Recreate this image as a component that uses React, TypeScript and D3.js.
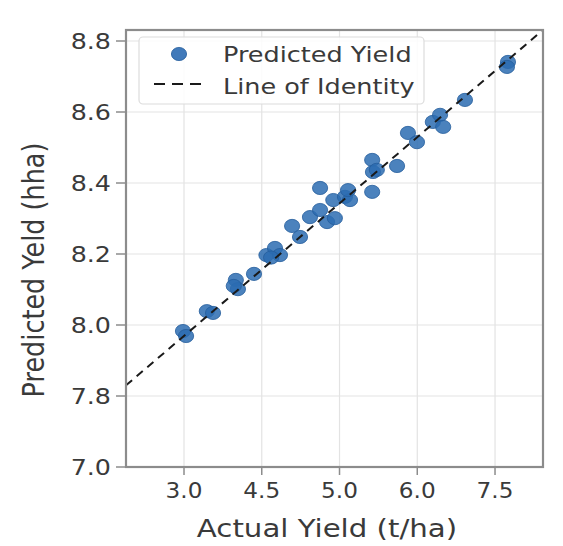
import React from "react";
import * as d3 from "d3";

// ---- data ----
const actualYield = [
  2.98, 3.04, 3.44, 3.56, 4.0, 4.04, 3.96, 4.35, 4.53, 4.585, 4.617, 4.56, 4.695, 4.746,
  4.81, 4.875, 4.92, 4.97, 4.875, 4.96, 5.07, 5.135, 5.11, 5.42, 5.42, 5.43, 5.48,
  5.74, 5.88, 5.996, 6.3, 6.44, 6.5, 6.92, 7.75, 7.73,
];
const predictedYield = [
  7.983, 7.969, 8.039, 8.034, 8.127, 8.101, 8.11, 8.144, 8.197, 8.217, 8.197, 8.19, 8.279, 8.248,
  8.304, 8.324, 8.29, 8.301, 8.386, 8.352, 8.361, 8.352, 8.38, 8.375, 8.465, 8.431, 8.437,
  8.448, 8.541, 8.515, 8.572, 8.592, 8.558, 8.634, 8.741, 8.727,
];
const xTickLabels = [3.0, 4.5, 5.0, 6.0, 7.5];
const yTickLabels = [7.0, 7.8, 8.0, 8.2, 8.4, 8.6, 8.8];
const xDomainEnds = [1.881, 8.426];
const yDomainTop = 8.831;
const identityLine = [
  { x: 1.881, y: 7.83 },
  { x: 8.426, y: 8.831 },
];
const xTitle = "Actual Yield (t/ha)";
const yTitle = "Predicted Yeld (hha)";
const legendLabels = ["Predicted Yield", "Line of Identity"];

// ---- layout ----
const W = 563;
const H = 546;
const left = 126;
const right = 543;
const top = 30;
const bottom = 467;
const FONT = "DejaVu Sans, Verdana, sans-serif";
const SX = 1.16;
const BLUE = "#2c6cb2";

const xSlot = d3.scaleLinear().domain([-0.746, 4.617]).range([left, right]);
const xScale = d3
  .scaleLinear()
  .domain([xDomainEnds[0], ...xTickLabels, xDomainEnds[1]])
  .range([-0.746, 0, 1, 2, 3, 4, 4.617].map((s) => xSlot(s)));

const ySlot = d3.scaleLinear().domain([0, 6.155]).range([bottom, top]);
const yScale = d3
  .scaleLinear()
  .domain([...yTickLabels, yDomainTop])
  .range([0, 1, 2, 3, 4, 5, 6, 6.155].map((s) => ySlot(s)));

function SText(props: {
  x: number;
  y: number;
  size: number;
  anchor?: string;
  sx?: number;
  fill?: string;
  children: React.ReactNode;
}) {
  const { x, y, size, anchor = "start", sx = SX, fill = "#3a3a3a", children } = props;
  return (
    <text
      transform={`translate(${x},${y}) scale(${sx},1)`}
      fontFamily={FONT}
      fontSize={size}
      textAnchor={anchor}
      fill={fill}
    >
      {children}
    </text>
  );
}

export default function App() {
  const pts = actualYield.map((a, i) => ({ x: a, y: predictedYield[i] }));
  const line = d3
    .line<{ x: number; y: number }>()
    .x((d) => xScale(d.x))
    .y((d) => yScale(d.y));

  return (
    <div style={{ position: "absolute", left: 0, top: 0 }}>
      <svg width={W} height={H} style={{ display: "block", background: "#fff" }}>
        {xTickLabels.map((t) => (
          <line
            key={"gx" + t}
            x1={xScale(t)}
            x2={xScale(t)}
            y1={top}
            y2={bottom}
            stroke="#e3e3e3"
            strokeWidth={1.2}
          />
        ))}
        {yTickLabels.map((t) => (
          <line
            key={"gy" + t}
            x1={left}
            x2={right}
            y1={yScale(t)}
            y2={yScale(t)}
            stroke="#e3e3e3"
            strokeWidth={1.2}
          />
        ))}

        {pts.map((p, i) => (
          <ellipse
            key={i}
            cx={xScale(p.x)}
            cy={yScale(p.y)}
            rx={7.6}
            ry={6.6}
            fill={BLUE}
            fillOpacity={0.85}
            stroke="#245d9c"
            strokeWidth={0.8}
          />
        ))}

        <path
          d={line(identityLine) || ""}
          fill="none"
          stroke="#1a1a1a"
          strokeWidth={2}
          strokeDasharray="8,6"
        />

        <rect
          x={left}
          y={top}
          width={right - left}
          height={bottom - top}
          fill="none"
          stroke="#8c8c8c"
          strokeWidth={2.2}
        />

        {xTickLabels.map((t) => (
          <g key={"xt" + t}>
            <line x1={xScale(t)} x2={xScale(t)} y1={bottom} y2={bottom + 8} stroke="#8c8c8c" strokeWidth={1.5} />
            <SText x={xScale(t)} y={498} size={20.5} anchor="middle" sx={1.13}>
              {t.toFixed(1)}
            </SText>
          </g>
        ))}
        {yTickLabels.map((t) => (
          <g key={"yt" + t}>
            <line x1={left - 10} x2={left} y1={yScale(t)} y2={yScale(t)} stroke="#8c8c8c" strokeWidth={1.5} />
            <SText x={111} y={yScale(t) + 8} size={21.5} anchor="end" sx={1.18}>
              {t.toFixed(1)}
            </SText>
          </g>
        ))}

        <SText x={327} y={537} size={25} anchor="middle" sx={1.17}>
          {xTitle}
        </SText>
        <text
          transform={`translate(44,270) rotate(-90) scale(1,1.15)`}
          fontFamily={FONT}
          fontSize={25.5}
          textAnchor="middle"
          fill="#3a3a3a"
        >
          {yTitle}
        </text>

        <rect
          x={139}
          y={37}
          width={285}
          height={67}
          rx={4}
          fill="#fff"
          fillOpacity={0.85}
          stroke="#dcdcdc"
          strokeWidth={1.2}
        />
        <ellipse cx={179} cy={54} rx={7.6} ry={6.6} fill={BLUE} fillOpacity={0.9} stroke="#245d9c" strokeWidth={0.8} />
        <SText x={223} y={62} size={22}>
          {legendLabels[0]}
        </SText>
        <line x1={154} x2={204} y1={84} y2={84} stroke="#1a1a1a" strokeWidth={2} strokeDasharray="11,7" />
        <SText x={223} y={94} size={22}>
          {legendLabels[1]}
        </SText>
      </svg>
    </div>
  );
}
